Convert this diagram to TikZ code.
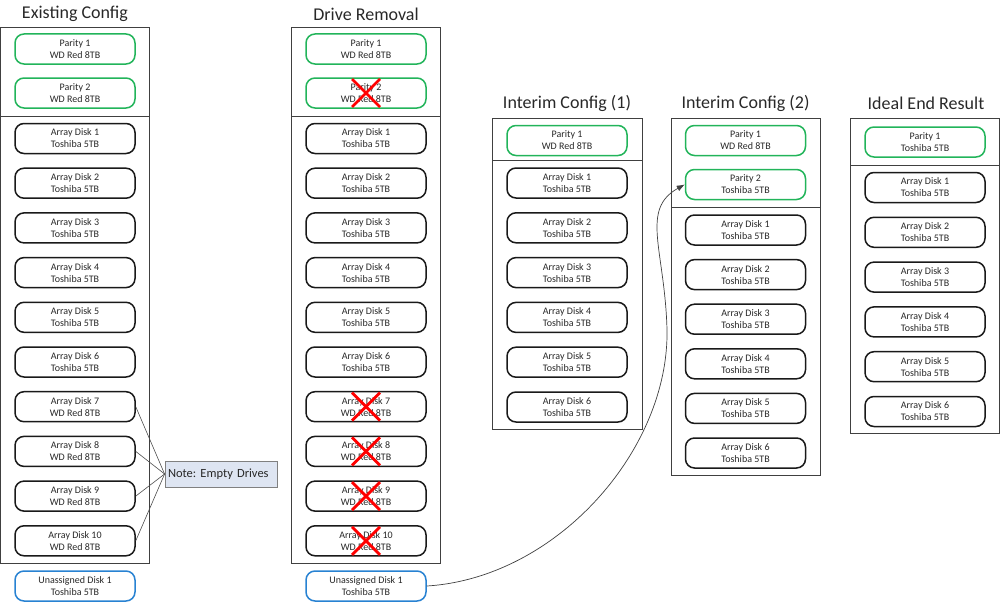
\documentclass[tikz,border=0pt]{standalone}
\usepackage{fontspec}
\setmainfont{Carlito}
\usetikzlibrary{arrows.meta,calc}
\definecolor{pgreen}{RGB}{34,180,90}
\definecolor{pblue}{RGB}{40,130,210}
\definecolor{notefill}{RGB}{222,229,242}
\definecolor{txt}{RGB}{40,40,40}
\frenchspacing
\tikzset{
  disk/.style={draw=black!90, line width=1.5pt, rounded corners=9pt, minimum width=120pt, minimum height=30pt, inner sep=0pt, align=center, text=txt, font=\fontsize{10}{12}\selectfont},
  paritybox/.style={disk, draw=pgreen},
  unassigned/.style={disk, draw=pblue},
  frame/.style={draw=black!75, line width=0.8pt},
  title/.style={text=txt, font=\fontsize{18}{20}\selectfont, inner sep=0pt},
  notebox/.style={draw=black!50, line width=0.8pt, fill=notefill, text width=106pt, inner xsep=3pt, minimum height=26pt, align=left, text=txt, font=\fontsize{12.5}{14}\selectfont},
  link/.style={draw=black!70, line width=0.6pt},
  xmark/.style={draw=red, line width=2.8pt},
  mover/.style={draw=black!75, line width=0.7pt, -{Latex[length=8pt,width=6pt]}}
}
\begin{document}
\begin{tikzpicture}[x=1pt,y=-1pt]
\useasboundingbox (0,0) rectangle (1000,602);
% ---------- Column 1: Existing Config
\node[title] (t1) at (75,14) {Existing Config};
\draw[frame] (0.5,27) rectangle (149,563);
\draw[frame] (0.5,116.5) -- (149,116.5);
\node[paritybox] (ep1) at (75,49) {Parity 1\\WD Red 8TB};
\node[paritybox] (ep2) at (75,93) {Parity 2\\WD Red 8TB};
\foreach \i in {1,...,6} \node[disk] (e\i) at (75,{138.5+44.7*(\i-1)}) {Array Disk \i\\Toshiba 5TB};
\foreach \i in {7,...,10} \node[disk] (e\i) at (75,{138.5+44.7*(\i-1)}) {Array Disk \i\\WD Red 8TB};
\node[unassigned] (eu) at (75,586) {Unassigned Disk 1\\Toshiba 5TB};
\node[notebox] (note) at (221,474) {Note: Empty Drives};
\foreach \i in {7,...,10} \draw[link] (e\i.east) -- (note.west);
% ---------- Column 2: Drive Removal
\node[title] (t2) at (366,14) {Drive Removal};
\draw[frame] (291,27) rectangle (440.5,563);
\draw[frame] (291,116.5) -- (440.5,116.5);
\node[paritybox] (rp1) at (366,49) {Parity 1\\WD Red 8TB};
\node[paritybox] (rp2) at (366,93) {Parity 2\\WD Red 8TB};
\foreach \i in {1,...,6} \node[disk] (r\i) at (366,{138.5+44.7*(\i-1)}) {Array Disk \i\\Toshiba 5TB};
\foreach \i in {7,...,10} \node[disk] (r\i) at (366,{138.5+44.7*(\i-1)}) {Array Disk \i\\WD Red 8TB};
\node[unassigned] (ru) at (366,586) {Unassigned Disk 1\\Toshiba 5TB};
\foreach \n in {rp2,r7,r8,r9,r10} {
  \draw[xmark] ($(\n.center)+(-14,-14)$) -- ($(\n.center)+(14,14)$);
  \draw[xmark] ($(\n.center)+(14,-14)$) -- ($(\n.center)+(-14,14)$);
}
% ---------- Column 3: Interim Config (1)
\node[title] (t3) at (567,103) {Interim Config (1)};
\draw[frame] (492,118) rectangle (642,429);
\draw[frame] (492,160) -- (642,160);
\node[paritybox] (ap1) at (567,140.5) {Parity 1\\WD Red 8TB};
\foreach \i in {1,...,6} \node[disk] (a\i) at (567,{183+44.8*(\i-1)}) {Array Disk \i\\Toshiba 5TB};
% ---------- Column 4: Interim Config (2)
\node[title] (t4) at (745.5,103) {Interim Config (2)};
\draw[frame] (671,118) rectangle (820,475);
\draw[frame] (671,207) -- (820,207);
\node[paritybox] (bp1) at (745.5,140.5) {Parity 1\\WD Red 8TB};
\node[paritybox] (bp2) at (745.5,184.5) {Parity 2\\Toshiba 5TB};
\foreach \i in {1,...,6} \node[disk] (b\i) at (745.5,{230+44.6*(\i-1)}) {Array Disk \i\\Toshiba 5TB};
% ---------- Column 5: Ideal End Result
\node[title] (t5) at (926,103) {Ideal End Result};
\draw[frame] (850.5,118) rectangle (999.5,433);
\draw[frame] (850.5,165) -- (999.5,165);
\node[paritybox] (cp1) at (925,142) {Parity 1\\Toshiba 5TB};
\foreach \i in {1,...,6} \node[disk] (c\i) at (925,{187.5+44.8*(\i-1)}) {Array Disk \i\\Toshiba 5TB};
% ---------- move of unassigned disk
\coordinate (bend) at (667,330);
\draw[mover] (ru.east) .. controls +(130,-8) and +(2,120) .. (bend) .. controls +(-2,-80) and +(-45,25) .. (bp2.west);
\end{tikzpicture}
\end{document}
